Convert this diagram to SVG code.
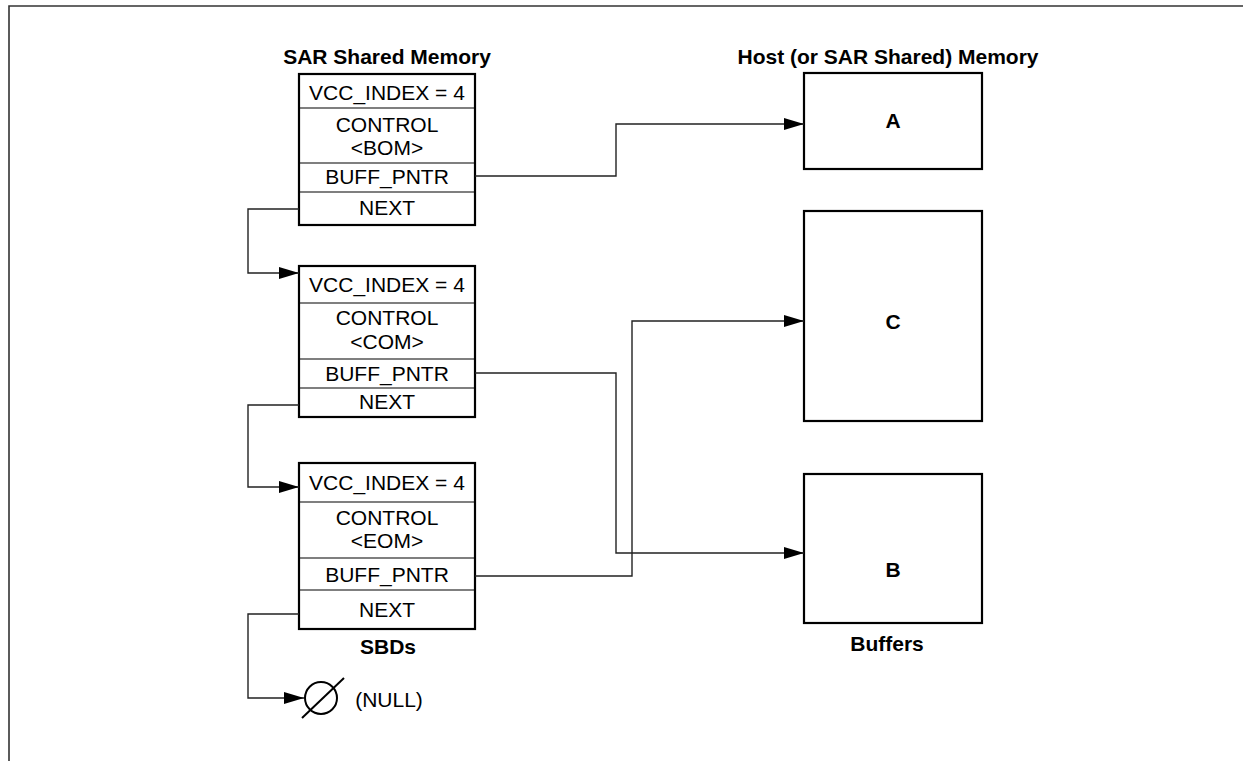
<svg xmlns="http://www.w3.org/2000/svg" width="1243" height="761" viewBox="0 0 1243 761">
<style>
text{font-family:"Liberation Sans",Arial,sans-serif;font-size:21px;fill:#000;text-anchor:middle}
.b{font-weight:bold}
.box{fill:#fff;stroke:#000;stroke-width:2.2}
.div{stroke:#000;stroke-width:1.2}
.con{fill:none;stroke:#222;stroke-width:1.4}
.frame{fill:none;stroke:#333;stroke-width:1.6}
</style>
<defs>
<marker id="ah" viewBox="0 0 20 12" refX="20" refY="6" markerWidth="20" markerHeight="12" markerUnits="userSpaceOnUse" orient="auto">
<path d="M0,0 L20,6 L0,12 Z" fill="#000"/>
</marker>
</defs>
<rect width="1243" height="761" fill="#fff"/>
<path class="frame" d="M9,761 V6 H1243"/>

<text class="b" x="387" y="64">SAR Shared Memory</text>
<text class="b" x="888" y="64">Host (or SAR Shared) Memory</text>
<text class="b" x="388" y="654">SBDs</text>
<text class="b" x="887" y="651">Buffers</text>

<g id="sbd1">
<rect class="box" x="299" y="74" width="176" height="151"/>
<line class="div" x1="299" y1="108" x2="475" y2="108"/>
<line class="div" x1="299" y1="163" x2="475" y2="163"/>
<line class="div" x1="299" y1="192" x2="475" y2="192"/>
<text x="387" y="100">VCC_INDEX = 4</text>
<text x="387" y="132">CONTROL</text>
<text x="387" y="155">&lt;BOM&gt;</text>
<text x="387" y="184">BUFF_PNTR</text>
<text x="387" y="215">NEXT</text>
</g>

<g id="sbd2">
<rect class="box" x="299" y="266" width="176" height="151"/>
<line class="div" x1="299" y1="303" x2="475" y2="303"/>
<line class="div" x1="299" y1="359" x2="475" y2="359"/>
<line class="div" x1="299" y1="388" x2="475" y2="388"/>
<text x="387" y="292">VCC_INDEX = 4</text>
<text x="387" y="325">CONTROL</text>
<text x="387" y="349">&lt;COM&gt;</text>
<text x="387" y="381">BUFF_PNTR</text>
<text x="387" y="409">NEXT</text>
</g>

<g id="sbd3">
<rect class="box" x="299" y="463" width="176" height="166"/>
<line class="div" x1="299" y1="502" x2="475" y2="502"/>
<line class="div" x1="299" y1="558" x2="475" y2="558"/>
<line class="div" x1="299" y1="590" x2="475" y2="590"/>
<text x="387" y="490">VCC_INDEX = 4</text>
<text x="387" y="525">CONTROL</text>
<text x="387" y="548">&lt;EOM&gt;</text>
<text x="387" y="582">BUFF_PNTR</text>
<text x="387" y="617">NEXT</text>
</g>

<g id="bufA">
<rect class="box" x="804" y="73" width="178" height="96"/>
<text class="b" x="893" y="128">A</text>
</g>
<g id="bufC">
<rect class="box" x="804" y="211" width="178" height="210"/>
<text class="b" x="893" y="329">C</text>
</g>
<g id="bufB">
<rect class="box" x="804" y="474" width="178" height="149"/>
<text class="b" x="893" y="577">B</text>
</g>

<g id="null">
<circle cx="321" cy="698" r="16" fill="none" stroke="#000" stroke-width="2"/>
<line x1="302" y1="718" x2="344" y2="678" stroke="#000" stroke-width="2"/>
<text x="389" y="707">(NULL)</text>
</g>

<g id="connectors">
<path class="con" d="M299,209 H248 V273 H299" marker-end="url(#ah)"/>
<path class="con" d="M299,405 H248 V487 H299" marker-end="url(#ah)"/>
<path class="con" d="M299,614 H248 V698 H304" marker-end="url(#ah)"/>
<path class="con" d="M475,176 H616 V124 H804" marker-end="url(#ah)"/>
<path class="con" d="M475,373 H616 V553 H804" marker-end="url(#ah)"/>
<path class="con" d="M475,576 H632 V321 H804" marker-end="url(#ah)"/>
</g>
</svg>
